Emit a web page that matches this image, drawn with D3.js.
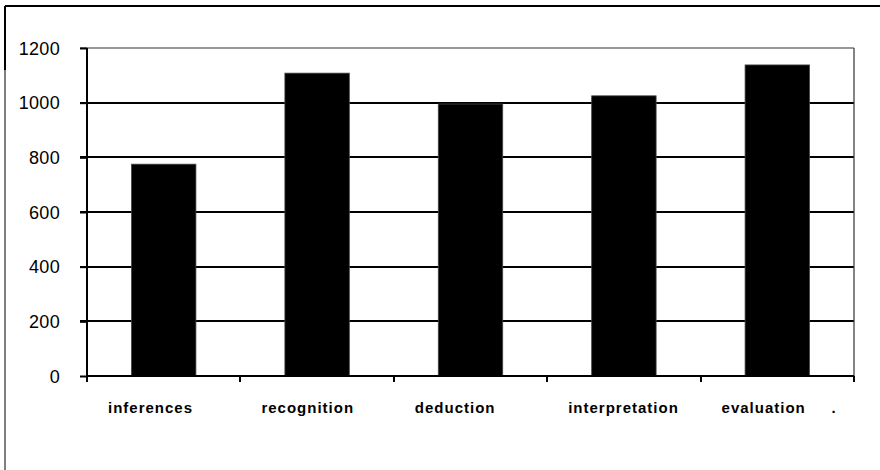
<!DOCTYPE html>
<html><head><meta charset="utf-8">
<script src="https://cdn.jsdelivr.net/npm/d3@7"></script>
<style>
html,body{margin:0;padding:0;background:#fff;}
svg{display:block;}
text{font-family:"Liberation Sans",Arial,sans-serif;fill:#000;}
</style></head>
<body>
<svg id="chart" width="880" height="470"></svg>
<script>
const categories = ["inferences", "recognition", "deduction", "interpretation", "evaluation     ."];
const values = [775, 1108, 995, 1025, 1138];
const yTicks = [0, 200, 400, 600, 800, 1000, 1200];

const svg = d3.select("#chart");
const W = 880, H = 470;
const plot = {left: 87, right: 854, top: 48, bottom: 376};

// outer frame (top and left only)
svg.append("line").attr("x1", 5).attr("x2", W).attr("y1", 6).attr("y2", 6)
  .attr("stroke", "#000").attr("stroke-width", 2);
svg.append("line").attr("x1", 5).attr("x2", 5).attr("y1", 6).attr("y2", 70)
  .attr("stroke", "#000").attr("stroke-width", 2);
svg.append("line").attr("x1", 5).attr("x2", 5).attr("y1", 70).attr("y2", H)
  .attr("stroke", "#555").attr("stroke-width", 1.5);

const x = d3.scaleBand().domain(categories).range([plot.left, plot.right]).padding(0);
const y = d3.scaleLinear().domain([0, 1200]).range([plot.bottom, plot.top]);

// gridlines
svg.append("g").selectAll("line").data(yTicks.filter(d => d > 0)).join("line")
  .attr("x1", plot.left - 7).attr("x2", plot.right)
  .attr("y1", d => Math.round(y(d))).attr("y2", d => Math.round(y(d)))
  .attr("stroke", d => d === 1200 ? "#333" : "#000")
  .attr("stroke-width", d => d === 1200 ? 1.2 : 2);

// plot right border
svg.append("line").attr("x1", plot.right).attr("x2", plot.right)
  .attr("y1", plot.top).attr("y2", plot.bottom)
  .attr("stroke", "#333").attr("stroke-width", 1.2);

// bars
const barFrac = 0.42;
svg.append("g").selectAll("rect").data(values).join("rect")
  .attr("x", (d, i) => x(categories[i]) + x.bandwidth() * (1 - barFrac) / 2)
  .attr("width", x.bandwidth() * barFrac)
  .attr("y", d => y(d))
  .attr("height", d => y(0) - y(d))
  .attr("fill", "#000")
  .attr("stroke", "#444").attr("stroke-width", 0.8);

// y axis
const yAxis = d3.axisLeft(y).tickValues(yTicks).tickSize(7).tickPadding(20).tickFormat(d3.format("d"));
const ga = svg.append("g").attr("transform", `translate(${plot.left},0)`).call(yAxis);
ga.select(".domain").attr("stroke", "#000").attr("stroke-width", 2)
  .attr("d", `M0,${plot.top}V${plot.bottom + 4}`);
ga.selectAll(".tick line").attr("stroke", "#000").attr("stroke-width", 2);
ga.selectAll(".tick text").attr("font-size", 18).attr("font-family", "Liberation Sans, Arial, sans-serif")
  .attr("letter-spacing", 0.3)
  .attr("dy", "0.34em");

// x axis
const xAxis = d3.axisBottom(x).tickSize(0).tickFormat("");
const gx = svg.append("g").attr("transform", `translate(0,${plot.bottom})`).call(xAxis);
gx.select(".domain").attr("stroke", "#000").attr("stroke-width", 2)
  .attr("d", `M${plot.left},0H${plot.right}`);
// boundary ticks
const bounds = categories.map(c => x(c)).concat([x(categories[categories.length - 1]) + x.bandwidth()]);
svg.append("g").selectAll("line").data(bounds).join("line")
  .attr("x1", d => Math.round(d)).attr("x2", d => Math.round(d))
  .attr("y1", plot.bottom).attr("y2", plot.bottom + 6)
  .attr("stroke", "#000").attr("stroke-width", 2);

// category labels
svg.append("g").selectAll("text").data(categories).join("text")
  .attr("x", d => x(d) + 21)
  .attr("y", 413)
  .attr("font-size", 15)
  .attr("font-weight", "bold")
  .attr("letter-spacing", 1)
  .style("white-space", "pre")
  .attr("xml:space", "preserve")
  .text(d => d);
</script>
</body></html>
